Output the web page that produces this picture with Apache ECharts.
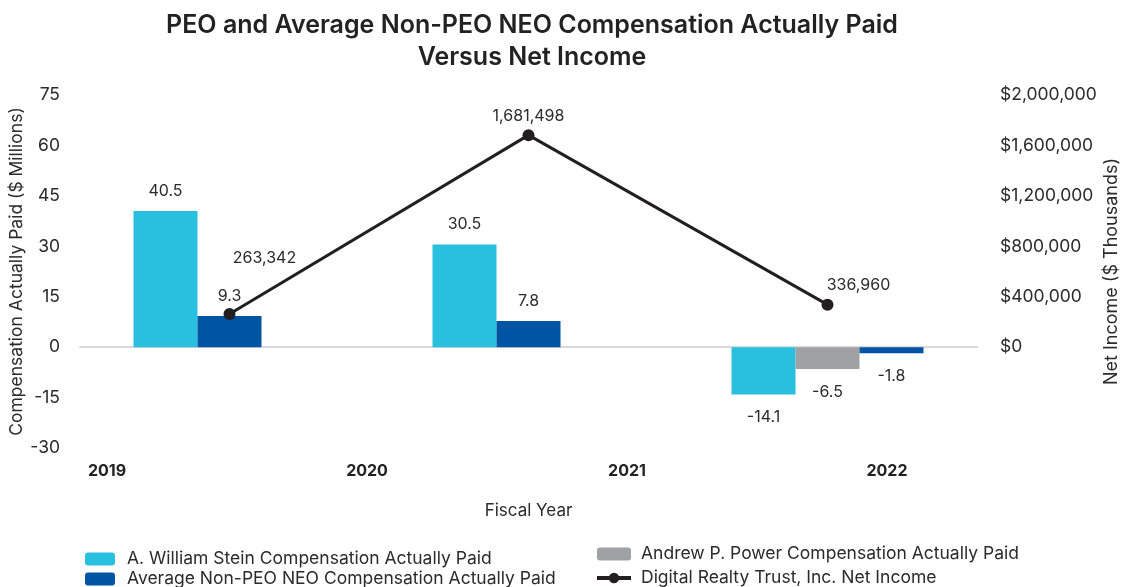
<!DOCTYPE html>
<html>
<head>
<meta charset="utf-8">
<script src="https://cdn.jsdelivr.net/npm/echarts@6/dist/echarts.min.js"></script>
<style>
html,body{margin:0;padding:0;background:#fff;}
#chart{width:1127px;height:587px;}
</style>
</head>
<body>
<div id="chart"></div>
<script>
// ---- data ----
const dataYears = ['2020', '2021', '2022'];
const tickYears = ['2019', '2020', '2021', '2022'];
const steinComp = [40.5, 30.5, -14.1];
const powerComp = [null, null, -6.5];
const avgNeoComp = [9.3, 7.8, -1.8];
const netIncome = [263342, 1681498, 336960];
const leftTicks = { min: -30, max: 75, interval: 15 };
const rightTicks = { min: -800000, max: 2000000, interval: 400000 };

const NAME_STEIN = 'A. William Stein Compensation Actually Paid';
const NAME_POWER = 'Andrew P. Power Compensation Actually Paid';
const NAME_AVG = 'Average Non-PEO NEO Compensation Actually Paid';
const NAME_NI = 'Digital Realty Trust, Inc. Net Income';

const FONT = 'Inter';
const TXT = '#2b2b2b';

// Average bar sits in the middle slot when there is no Power bar, else third slot
const avgMid = avgNeoComp.map((v, i) => powerComp[i] == null ? v : null);
const avgThird = avgNeoComp.map((v, i) => powerComp[i] == null ? null : v);

const barLabel = {
  show: true, color: TXT, fontFamily: FONT, fontSize: 16,
  formatter: p => p.value == null ? '' : String(p.value),
  position: 'top', distance: 12
};
function withLabels(arr) {
  return arr.map(v => v == null ? null : ({
    value: v,
    label: v < 0 ? { position: 'bottom', distance: 15 } : { position: 'top', distance: 12 }
  }));
}
const lineOffsets = [[35, -37], [0, 0], [31, 0]];

const chart = echarts.init(document.getElementById('chart'));
chart.setOption({
  backgroundColor: '#fff',
  animation: false,
  textStyle: { fontFamily: FONT },
  title: {
    text: 'PEO and Average Non-PEO NEO Compensation Actually Paid\nVersus Net Income',
    left: 527, textAlign: 'center', top: 4,
    textStyle: { fontFamily: FONT, fontSize: 25, fontWeight: 600, color: '#222', lineHeight: 32 }
  },
  legend: [
    {
      data: [NAME_STEIN, NAME_AVG], orient: 'vertical', left: 80, top: 545, height: 100,
      itemWidth: 30, itemHeight: 13, itemGap: 2,
      textStyle: { fontFamily: FONT, fontSize: 17.5, color: TXT, padding: [0, 0, 0, 7] }
    },
    {
      data: [
        { name: NAME_POWER },
        { name: NAME_NI, lineStyle: { width: 4, color: '#231f20' }, itemStyle: { color: '#231f20' } }
      ],
      orient: 'vertical', left: 590, top: 540, height: 100,
      itemWidth: 34, itemHeight: 13, itemGap: 6,
      textStyle: { fontFamily: FONT, fontSize: 17.5, color: TXT, padding: [0, 0, 0, 5] }
    }
  ],
  grid: [
    { left: 80, right: 150, top: 95, bottom: 139, outerBoundsMode: 'none', containLabel: false },
    { left: 107, right: 240, top: 95, bottom: 139, outerBoundsMode: 'none', containLabel: false }
  ],
  xAxis: [
    {
      type: 'category', gridIndex: 0, data: dataYears,
      axisLine: { onZero: true, lineStyle: { color: '#d9d9d9', width: 2 } },
      axisTick: { show: false }, axisLabel: { show: false },
      name: 'Fiscal Year', nameLocation: 'middle', nameGap: 54,
      nameTextStyle: { fontFamily: FONT, fontSize: 17, color: TXT }
    },
    {
      type: 'category', gridIndex: 1, data: tickYears, boundaryGap: false,
      axisLine: { show: false }, axisTick: { show: false },
      axisLabel: { margin: 15, fontFamily: FONT, fontSize: 16, fontWeight: 'bold', color: '#222' }
    }
  ],
  yAxis: [
    {
      type: 'value', gridIndex: 0, min: leftTicks.min, max: leftTicks.max, interval: leftTicks.interval,
      splitLine: { show: false }, axisLine: { show: false }, axisTick: { show: false },
      axisLabel: { margin: 20, fontFamily: FONT, fontSize: 17.5, color: TXT },
      name: 'Compensation Actually Paid ($ Millions)', nameLocation: 'middle', nameGap: 54, nameRotate: 90,
      nameMoveOverlap: false,
      nameTextStyle: { fontFamily: FONT, fontSize: 17.5, color: TXT }
    },
    {
      type: 'value', gridIndex: 0, position: 'right',
      min: rightTicks.min, max: rightTicks.max, interval: rightTicks.interval,
      splitLine: { show: false }, axisLine: { show: false }, axisTick: { show: false },
      axisLabel: {
        margin: 23, fontFamily: FONT, fontSize: 17.5, color: TXT, align: 'left',
        formatter: v => v < 0 ? '' : '$' + v.toLocaleString('en-US')
      },
      name: 'Net Income ($ Thousands)', nameLocation: 'middle', nameGap: 126, nameRotate: 90,
      nameMoveOverlap: false,
      nameTextStyle: { fontFamily: FONT, fontSize: 18, color: TXT }
    },
    { type: 'value', gridIndex: 1, show: false }
  ],
  series: [
    {
      name: NAME_STEIN, type: 'bar', xAxisIndex: 0, yAxisIndex: 0,
      data: withLabels(steinComp), barWidth: 64, barGap: '0%',
      itemStyle: { color: '#29c0df' }, label: barLabel
    },
    {
      name: NAME_POWER, type: 'bar', stack: 'mid', xAxisIndex: 0, yAxisIndex: 0,
      data: withLabels(powerComp), barWidth: 64, barGap: '0%',
      itemStyle: { color: '#a0a1a4' }, label: barLabel
    },
    {
      name: NAME_AVG, type: 'bar', stack: 'mid', xAxisIndex: 0, yAxisIndex: 0,
      data: withLabels(avgMid), barWidth: 64, barGap: '0%',
      itemStyle: { color: '#0054a4' }, label: barLabel
    },
    {
      name: NAME_AVG, type: 'bar', xAxisIndex: 0, yAxisIndex: 0,
      data: withLabels(avgThird), barWidth: 64, barGap: '0%',
      itemStyle: { color: '#0054a4' }, label: barLabel
    },
    {
      name: NAME_NI, type: 'line', xAxisIndex: 0, yAxisIndex: 1,
      data: netIncome.map((v, i) => ({ value: v, label: { offset: lineOffsets[i] } })),
      symbol: 'circle', symbolSize: 12,
      lineStyle: { color: '#231f20', width: 3 },
      itemStyle: { color: '#231f20' },
      label: {
        show: true, position: 'top', distance: 5, color: TXT, fontFamily: FONT, fontSize: 16,
        formatter: p => p.value.toLocaleString('en-US')
      },
      z: 5
    }
  ]
});
</script>
</body>
</html>
